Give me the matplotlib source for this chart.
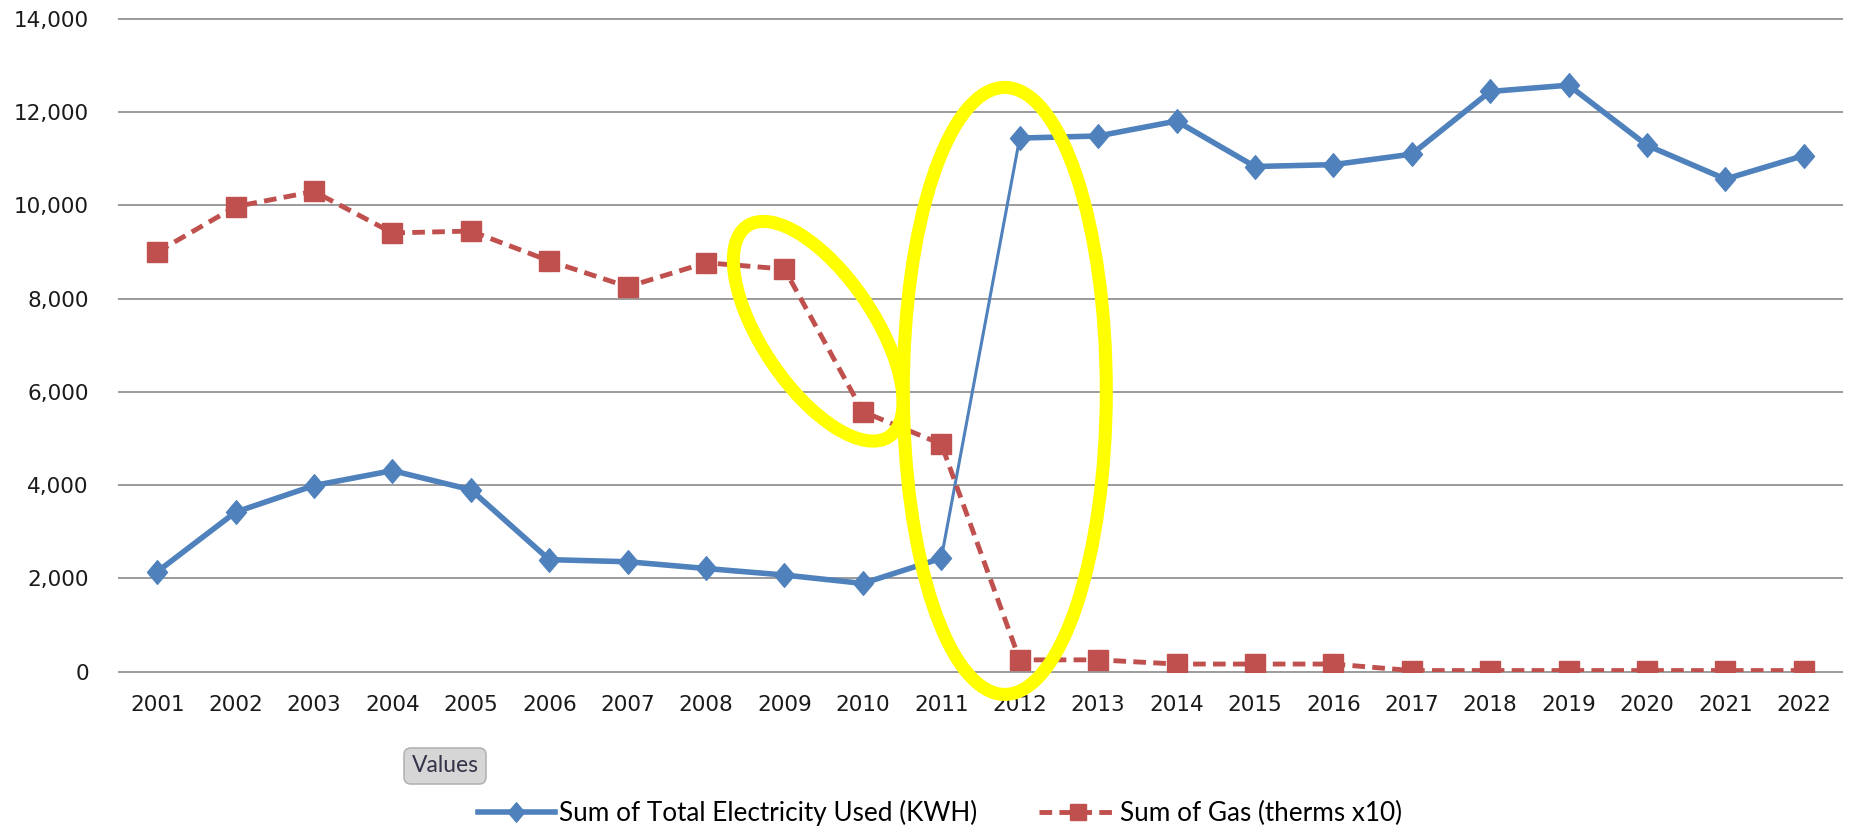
import numpy as np
import matplotlib.pyplot as plt
from matplotlib.patches import Ellipse, FancyBboxPatch
from matplotlib.lines import Line2D
from matplotlib.path import Path
from matplotlib.transforms import ScaledTranslation

# data
years = ["2001", "2002", "2003", "2004", "2005", "2006", "2007", "2008",
         "2009", "2010", "2011", "2012", "2013", "2014", "2015", "2016",
         "2017", "2018", "2019", "2020", "2021", "2022"]
electricity = [2140, 3420, 3990, 4310, 3900, 2400, 2355, 2210, 2070, 1890, 2430,
               11445, 11490, 11810, 10835, 10875, 11100, 12445, 12580, 11290,
               10565, 11070]
gas = [9000, 9975, 10300, 9410, 9450, 8810, 8255, 8770, 8635, 5575, 4880,
       250, 250, 160, 160, 160, 20, 20, 20, 20, 20, 20]
yticks = [0, 2000, 4000, 6000, 8000, 10000, 12000, 14000]

BLUE = "#4f81bd"
RED = "#c0504d"
YELLOW = "#ffff00"
GRID = "#8a8a8a"
DASH = (0, (2.6, 1.5))

# markers (diamond a bit taller than wide, like the picture)
diamond = Path([(0, 1), (0.85, 0), (0, -1), (-0.85, 0), (0, 1)],
               [Path.MOVETO, Path.LINETO, Path.LINETO, Path.LINETO, Path.CLOSEPOLY])

W, H = 1857, 831
fig = plt.figure(figsize=(W / 100, H / 100), dpi=100)
ax = fig.add_axes([118 / W, 1 - 671.5 / H, (1843 - 118) / W, (671.5 - 19) / H])

x = np.arange(len(years))
ax.set_xlim(-0.5, len(years) - 0.5)
ax.set_ylim(0, 14000)

# gridlines
ax.hlines(yticks, -0.5, len(years) - 0.5, color=GRID, lw=1.2, zorder=1, clip_on=False)

# electricity: the 2011 -> 2012 jump is drawn thinner in the picture
thin = [10]
for i in range(len(x) - 1):
    ax.plot(x[i:i + 2], electricity[i:i + 2], color=BLUE,
            lw=2.2 if i in thin else 4.0, solid_capstyle="round", zorder=3)
ax.plot(x, electricity, ls="none", marker=diamond, ms=17, color=BLUE, zorder=4)

# gas
ax.plot(x, gas, color=RED, lw=3.5, ls=DASH, zorder=5)
ax.plot(x, gas, ls="none", marker="s", ms=15, color=RED, zorder=6)

# axes style
for s in ax.spines.values():
    s.set_visible(False)
ax.set_xticks(x, years)
ax.set_yticks(yticks, [f"{v:,}" for v in yticks])
ax.tick_params(axis="both", length=0, labelsize=15.5, labelcolor="#1a1a1a")
ax.tick_params(axis="x", pad=17)
ax.tick_params(axis="y", pad=21)
ax.set_facecolor("white")

# yellow highlight ellipses (sizes in inches, centred on data coords)
ellipses = [
    (8.43, 7300, 2.54, 1.12, -56),
    (10.81, 6020, 2.03, 6.07, 0),
]
for cx, cy, w, h, ang in ellipses:
    tr = fig.dpi_scale_trans + ScaledTranslation(cx, cy, ax.transData)
    ax.add_patch(Ellipse((0, 0), w, h, angle=ang, transform=tr, fill=False,
                         ec=YELLOW, lw=9.4, clip_on=False, zorder=10))

# "Values" field button
btn = FancyBboxPatch((4.04, 0.47), 0.82, 0.36,
                     boxstyle="round,pad=0,rounding_size=0.07",
                     transform=fig.dpi_scale_trans, fc="#d6d6d6", ec="#b4b4b4",
                     lw=1.2)
fig.add_artist(btn)
fig.text(4.45, 0.65, "Values", transform=fig.dpi_scale_trans, ha="center",
         va="center", family="Lato", fontsize=16.5, color="#33334a")

# legend
handles = [
    Line2D([], [], color=BLUE, lw=4.0, marker=diamond, ms=14),
    Line2D([], [], color=RED, lw=3.5, ls=DASH, marker="s", ms=12),
]
labels = ["Sum of Total Electricity Used (KWH)", "Sum of Gas (therms x10)"]
fig.legend(handles, labels, loc="center", bbox_to_anchor=(940 / W, 1 - 813 / H),
           ncol=2, frameon=False, prop={"family": "Lato", "size": 18.8},
           handlelength=2.95, handletextpad=0.15, columnspacing=2.4)

plt.savefig("out.png", dpi=100, facecolor="white")
